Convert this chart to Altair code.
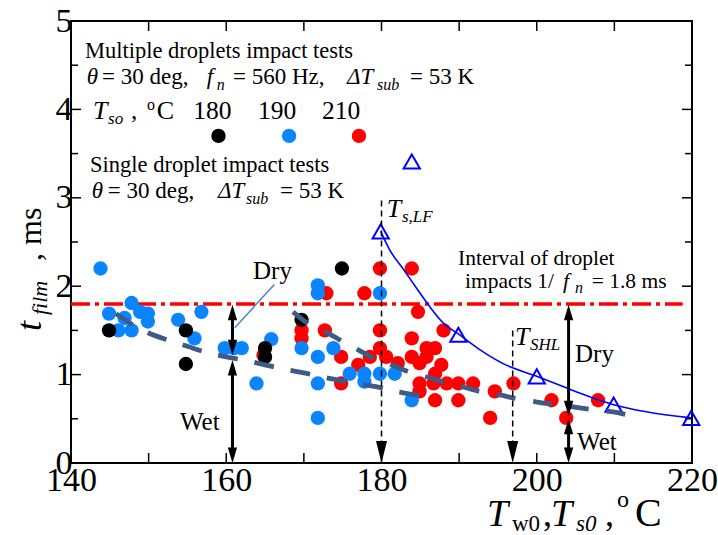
import altair as alt
import pandas as pd

SERIF = "Liberation Serif"
W, H = 621, 442
X_DOM = [140, 220]
Y_DOM = [0, 5]

# ---- multiple droplets impact tests (t_film vs T_w0) ----
# T_so = 180 C (black)
black_t = [144.9, 154.8, 154.8, 165.0, 165.0, 169.7, 174.9]
black_f = [1.50, 1.50, 1.12, 1.30, 1.20, 1.62, 2.20]
# T_so = 190 C (blue)
blue_t = [143.8, 144.9, 146.1, 146.9, 147.8, 147.8, 148.9, 149.9, 149.9, 153.8,
          155.9, 156.8, 159.8, 161.0, 162.0, 163.9, 165.8, 171.8, 171.8, 179.8,
          169.7, 171.8, 173.8, 171.8, 171.8, 175.9, 177.8, 177.8, 179.8, 181.7, 183.9]
blue_f = [2.20, 1.69, 1.50, 1.64, 1.81, 1.50, 1.71, 1.69, 1.60, 1.62,
          1.41, 1.71, 1.30, 1.30, 1.30, 0.90, 1.40, 2.01, 1.92, 1.92,
          1.30, 1.20, 1.30, 0.90, 0.51, 1.01, 1.01, 0.92, 1.01, 1.01, 0.71]
# T_so = 210 C (red)
red_t = [179.8, 183.9, 172.9, 177.8, 184.7, 169.7, 169.7, 172.7, 179.8, 188.0,
         183.9, 174.8, 177.0, 178.5, 179.8, 180.6, 182.1, 183.9, 184.9, 185.8,
         186.9, 185.8, 187.7, 186.9, 184.9, 186.7, 188.4, 174.8, 184.9, 186.9,
         189.9, 191.8, 189.9, 194.6, 194.0, 197.0, 201.9, 203.8, 207.9, 164.8]
red_f = [2.20, 2.20, 1.92, 1.92, 1.71, 1.50, 1.41, 1.50, 1.50, 1.50,
         1.41, 1.20, 1.11, 1.20, 1.30, 1.20, 1.13, 1.20, 1.13, 1.30,
         1.30, 1.20, 1.11, 1.01, 0.90, 0.90, 0.90, 0.90, 0.81, 0.71,
         0.90, 0.90, 0.71, 0.81, 0.51, 0.90, 0.71, 0.51, 0.71, 1.22]

# ---- single droplet impact tests ----
single_t = [179.9, 183.9, 189.9, 200.0, 209.9, 219.9]
single_f = [2.62, 3.41, 1.45, 0.98, 0.66, 0.51]
# fitted curve through the single droplet results
fit_t = [179.9, 181.0, 183.0, 184.5, 186.2, 188.0, 189.9, 192.7, 196.0, 200.0,
         203.8, 206.8, 209.9, 214.1, 219.9]
fit_f = [2.62, 2.42, 2.17, 1.98, 1.77, 1.58, 1.46, 1.28, 1.11, 0.98,
         0.85, 0.75, 0.66, 0.58, 0.51]

# ---- trend lines (dashed) ----
low_t = [145.8, 148.0, 150.0, 152.5, 155.0, 157.5, 160.0, 162.5, 165.0, 167.5,
         170.0, 172.5, 175.0, 177.5, 180.0, 182.5, 185.2]
low_f = [1.69, 1.56, 1.47, 1.39, 1.32, 1.25, 1.20, 1.16, 1.11, 1.06,
         1.02, 0.97, 0.93, 0.89, 0.85, 0.80, 0.76]
up_t = [168.6, 170.5, 172.7, 175.1, 177.0, 179.4, 181.3, 183.9, 186.0, 188.6,
        190.5, 193.1, 195.2, 197.8, 200.0, 202.6, 205.1, 207.5, 209.6, 212.0]
up_f = [1.71, 1.58, 1.49, 1.37, 1.28, 1.17, 1.11, 1.02, 0.97, 0.90,
        0.86, 0.80, 0.77, 0.72, 0.69, 0.66, 0.63, 0.60, 0.58, 0.54]

interval_t = [140.0, 218.8]   # extent of the 1/f_n line
interval_f = 1.8              # 1/f_n = 1.8 ms
legend_t = [159.0, 168.1, 177.1]
legend_f = [3.70, 3.70, 3.70]
legend_c = ["#000000", "#0a84ff", "#ff0000"]

# solid double arrows (Dry / Wet)
arr_x = [160.8, 160.8, 204.1, 204.1]
arr_top = [1.79, 1.165, 1.79, 0.50]
arr_bot = [1.22, 0.0, 0.53, 0.0]
# dashed arrows (T_s,LF and T_SHL)
darr_x = [180.0, 196.9]
darr_top = [2.97, 1.50]
# leader line for "Dry"
lead_t = [161.1, 166.2]
lead_f = [1.53, 2.02]

x_labels = [140, 160, 180, 200, 220]
x_ticks = [140, 150, 160, 170, 180, 190, 200, 210, 220]
y_major = [0, 1, 2, 3, 4, 5]
y_minor = [0.5, 1.5, 2.5, 3.5, 4.5]

xs = alt.Scale(domain=X_DOM, nice=False, zero=False)
ys = alt.Scale(domain=Y_DOM, nice=False, zero=False)
AXX = alt.Axis(values=x_labels, ticks=False, domain=False, grid=False, title=None,
               labelFont=SERIF, labelFontSize=34, labelColor="black", labelPadding=0,
               labelFlush=False, labelOverlap=False, format="d")
AXY = alt.Axis(values=y_major, ticks=False, domain=False, grid=False, title=None,
               labelFont=SERIF, labelFontSize=34, labelColor="black", labelPadding=-1,
               labelFlush=False, labelOverlap=False, format="d")


def X(f):
    return alt.X(f"{f}:Q", scale=xs, axis=AXX)


def Y(f):
    return alt.Y(f"{f}:Q", scale=ys, axis=AXY)


def pts(t, f, color, size=205):
    df = pd.DataFrame({"t": t, "f": f})
    return alt.Chart(df).mark_circle(color=color, opacity=1, size=size).encode(x=X("t"), y=Y("f"))


layers = []

# inward ticks
xt = pd.DataFrame({"t": x_ticks})
layers.append(alt.Chart(xt).mark_rule(color="black", strokeWidth=1.5).encode(
    x=X("t"), y=alt.value(H), y2=alt.value(H - 10)))
layers.append(alt.Chart(xt).mark_rule(color="black", strokeWidth=1.5).encode(
    x=X("t"), y=alt.value(0), y2=alt.value(10)))
ymj = pd.DataFrame({"f": y_major})
ymn = pd.DataFrame({"f": y_minor})
for d, ln in ((ymj, 10), (ymn, 7)):
    layers.append(alt.Chart(d).mark_rule(color="black", strokeWidth=1.5).encode(
        y=Y("f"), x=alt.value(0), x2=alt.value(ln)))
    layers.append(alt.Chart(d).mark_rule(color="black", strokeWidth=1.5).encode(
        y=Y("f"), x=alt.value(W), x2=alt.value(W - ln)))

# red dash-dot line
iv = pd.DataFrame({"a": [interval_t[0]], "b": [interval_t[1]], "f": [interval_f]})
layers.append(alt.Chart(iv).mark_rule(
    color="#ff0000", strokeWidth=3.5, strokeDash=[19, 5, 4, 5]).encode(
    x=X("a"), x2=alt.X2("b"), y=Y("f")))

# data points
layers.append(pts(red_t, red_f, "#ff0000"))
layers.append(pts(blue_t, blue_f, "#0a84ff"))
layers.append(pts(black_t, black_f, "#000000"))
leg = pd.DataFrame({"t": legend_t, "f": legend_f, "c": legend_c})
layers.append(alt.Chart(leg).mark_circle(opacity=1, size=205).encode(
    x=X("t"), y=Y("f"), color=alt.Color("c:N", scale=None)))

# single droplet
layers.append(alt.Chart(pd.DataFrame({"t": fit_t, "f": fit_f})).mark_line(
    color="#0000ff", strokeWidth=1.6, interpolate="monotone").encode(x=X("t"), y=Y("f")))
layers.append(alt.Chart(pd.DataFrame({"t": single_t, "f": single_f})).mark_point(
    shape="triangle-up", filled=False, color="#0000ff", strokeWidth=2, size=265, opacity=1).encode(
    x=X("t"), y=Y("f")))

# dashed trend curves
for tt, ff, dash in ((low_t, low_f, [20, 17]), (up_t, up_f, [19, 18])):
    layers.append(alt.Chart(pd.DataFrame({"t": tt, "f": ff})).mark_line(
        color="#3d5b85", strokeWidth=4.8, strokeDash=dash, interpolate="monotone").encode(
        x=X("t"), y=Y("f")))

# arrows
pxu = H / (Y_DOM[1] - Y_DOM[0])
inset = 8 / pxu
sa = pd.DataFrame({"t": arr_x, "a": [v - inset for v in arr_top], "b": [v + inset for v in arr_bot]})
layers.append(alt.Chart(sa).mark_rule(color="black", strokeWidth=3).encode(
    x=X("t"), y=Y("a"), y2=alt.Y2("b")))
UP = "M0,0L-0.6,2L0.6,2Z"
DOWN = "M0,0L-0.6,-2L0.6,-2Z"
ups = pd.DataFrame({"t": arr_x, "f": arr_top})
downs = pd.DataFrame({"t": arr_x, "f": arr_bot})
layers.append(alt.Chart(ups).mark_point(shape=UP, filled=True, color="black", size=240, opacity=1).encode(
    x=X("t"), y=Y("f")))
layers.append(alt.Chart(downs).mark_point(shape=DOWN, filled=True, color="black", size=240, opacity=1).encode(
    x=X("t"), y=Y("f")))
da = pd.DataFrame({"t": darr_x, "a": darr_top, "b": [10 / pxu] * len(darr_x), "z": [0.0] * len(darr_x)})
layers.append(alt.Chart(da).mark_rule(color="black", strokeWidth=1.5, strokeDash=[6, 4]).encode(
    x=X("t"), y=Y("a"), y2=alt.Y2("b")))
layers.append(alt.Chart(da).mark_point(shape="M0,0L-0.5,-2L0.5,-2Z", filled=True, color="black",
                                       size=484, opacity=1).encode(x=X("t"), y=Y("z")))

# leader line
layers.append(alt.Chart(pd.DataFrame({"t": lead_t, "f": lead_f})).mark_line(
    color="#4d86c6", strokeWidth=1.5).encode(x=X("t"), y=Y("f")))

one = pd.DataFrame({"k": [0]})


def txt(s, x, y, size, italic=False, pixel=False, angle=None, color="black"):
    kw = dict(text=s, font=SERIF, fontSize=size, align="left", baseline="alphabetic", color=color)
    if italic:
        kw["fontStyle"] = "italic"
    if angle is not None:
        kw["angle"] = angle
    m = alt.Chart(one).mark_text(**kw)
    if pixel:
        return m.encode(x=alt.value(x), y=alt.value(y))
    return m.encode(x=alt.X(datum=x, scale=xs, axis=AXX), y=alt.Y(datum=y, scale=ys, axis=AXY))


# legend block
layers += [
    txt("Multiple droplets impact tests", 141.80, 4.581, 22.5),
    txt("θ", 142.02, 4.287, 23, italic=True),
    txt("= 30 deg,", 144.00, 4.287, 23),
    txt("f", 157.48, 4.287, 23, italic=True),
    txt("n", 158.77, 4.219, 16, italic=True),
    txt("= 560 Hz,", 160.87, 4.287, 23),
    txt("ΔT", 175.56, 4.287, 23, italic=True),
    txt("sub", 179.42, 4.219, 16, italic=True),
    txt("= 53 K", 183.67, 4.287, 23),
    txt("T", 142.83, 3.891, 26, italic=True),
    txt("so", 144.77, 3.835, 17, italic=True),
    txt(",", 147.73, 3.891, 25),
    txt("o", 149.79, 3.993, 16),
    txt("C", 151.04, 3.891, 26),
    txt("180", 155.76, 3.891, 25.5),
    txt("190", 164.09, 3.891, 25.5),
    txt("210", 172.34, 3.891, 25.5),
    txt("Single droplet impact tests", 142.45, 3.295, 22.5),
    txt("θ", 142.67, 2.998, 23, italic=True),
    txt("= 30 deg,", 144.75, 2.998, 23),
    txt("ΔT", 158.94, 2.998, 23, italic=True),
    txt("sub", 162.54, 2.930, 16, italic=True),
    txt("= 53 K", 166.92, 2.998, 23),
    # annotations
    txt("T", 180.67, 2.786, 26, italic=True),
    txt("s,LF", 182.64, 2.726, 17, italic=True),
    txt("Interval of droplet", 189.86, 2.235, 21.5),
    txt("impacts 1/", 190.76, 1.976, 21.5),
    txt("f", 203.38, 1.976, 22, italic=True),
    txt("n", 204.93, 1.923, 16, italic=True),
    txt("= 1.8 ms", 207.08, 1.976, 21.5),
    txt("Dry", 163.45, 2.081, 25),
    txt("Wet", 154.04, 0.373, 25),
    txt("Dry", 204.93, 1.146, 25),
    txt("Wet", 205.19, 0.147, 25),
    txt("T", 197.20, 1.335, 26, italic=True),
    txt("SHL", 199.13, 1.278, 17, italic=True),
]

# axis titles (outside plot area, pixel positions relative to plot origin)
layers += [
    txt("T", 416, 505, 38, italic=True, pixel=True),
    txt("w0", 441, 510, 23, pixel=True),
    txt(",", 472, 505, 36, pixel=True),
    txt("T", 480, 505, 38, italic=True, pixel=True),
    txt("s0", 505, 510, 23, italic=True, pixel=True),
    txt(",", 534, 505, 36, pixel=True),
    txt("o", 546, 486, 24, pixel=True),
    txt("C", 564, 505, 40, pixel=True),
    txt("t", -30, 310, 36, italic=True, pixel=True, angle=270),
    txt("film", -24, 294, 22, italic=True, pixel=True, angle=270),
    txt(", ms", -30, 240, 32, pixel=True, angle=270),
]

chart = alt.layer(*layers).properties(
    width=W, height=H,
    autosize=alt.AutoSizeParams(type="none"),
    padding={"left": 71, "top": 21, "right": 26, "bottom": 72},
    background="white",
).configure_view(stroke="black", strokeWidth=2)

chart.save("out.html", embed_options={"renderer": "svg", "actions": False})
